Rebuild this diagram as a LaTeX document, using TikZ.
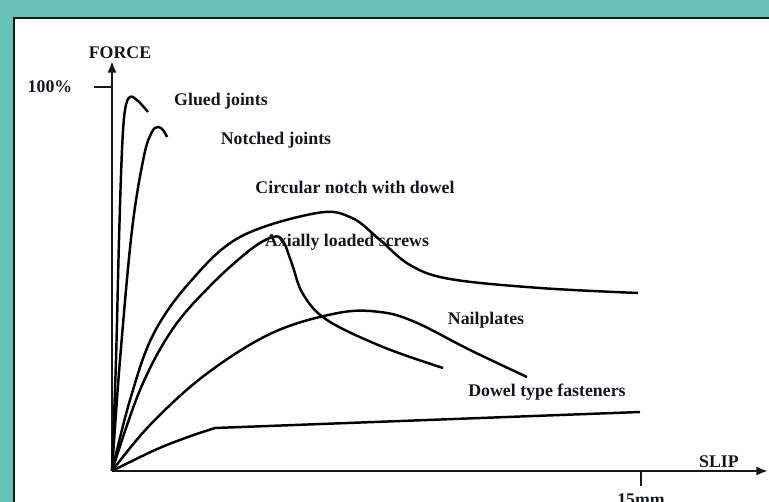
\documentclass[tikz,border=0pt]{standalone}
\usepackage{fontspec}
\setmainfont{Liberation Serif}
\usetikzlibrary{arrows.meta}
\definecolor{teal1}{RGB}{105,193,183}
\definecolor{ink}{RGB}{22,22,34}
\begin{document}
\begin{tikzpicture}[x=0.3mm,y=-0.3mm,
  lbl/.style={font=\fontsize{15.2}{18}\selectfont\bfseries, text=ink, inner sep=0pt},
  axis/.style={line width=2.4pt, draw=ink},
  curve/.style={line width=2.1pt, draw=black, smooth, tension=0.6},
  tip/.style={-{Latex[length=10pt,width=8pt]}}]
\fill[teal1] (0,0) rectangle (769,502);
\useasboundingbox (0,0) rectangle (769,502);
\filldraw[fill=white, draw=black!90, line width=2.4pt] (14,18) rectangle (790,520);
% axes
\coordinate (O) at (112,471);
\coordinate (Ytop) at (112,61);
\coordinate (Xend) at (768,471);
\coordinate (T100) at (94,87);
\coordinate (Y100) at (112,87);
\coordinate (T15) at (641,471);
\coordinate (T15b) at (641,486);
\draw[axis,tip] (O) -- (Ytop);
\draw[axis,tip] (O) -- (Xend);
\draw[axis] (T100) -- (Y100);
\draw[axis] (T15) -- (T15b);
% labels
\node[lbl] (force) at (120,53) {FORCE};
\node[lbl] (p100) at (50,87) {100\%};
\node[lbl] (slip) at (719,462) {SLIP};
\node[lbl] (mm15) at (641,500) {15mm};
\node[lbl] (glued) at (221,101) {Glued joints};
\node[lbl] (notched) at (276,140) {Notched joints};
\node[lbl] (circ) at (355,187) {Circular notch with dowel};
% curves
\draw[curve] plot coordinates {(112,471) (116,360) (119,240) (122,150) (125,110) (130,97) (138,101) (148,112)};
\draw[curve] plot coordinates {(112,471) (120,360) (132,230) (144,156) (152,132) (158,127) (163,130) (167,137)};
\draw[curve] plot coordinates {(112,471) (130,400) (153,335) (190,282) (240,237) (317,213) (352,218) (380,240) (410,265) (450,279) (540,288) (638,293)};
\draw[curve] plot coordinates {(112,471) (140,390) (172,330) (210,286) (250,250) (273,237) (283,241) (292,264) (303,294) (327,320) (383,347) (443,368)};
\draw[curve] plot coordinates {(112,471) (150,425) (205,375) (272,333) (338,313) (380,312) (415,322) (470,350) (527,377)};
\draw[curve] plot coordinates {(112,471) (155,450) (188,437) (215,428)};
\draw[line width=2.1pt] (215,428) -- (640,412);
\node[lbl] (axial) at (347,242) {Axially loaded screws};
\node[lbl] (nail) at (486,320) {Nailplates};
\node[lbl] (dowel) at (547,392) {Dowel type fasteners};
\end{tikzpicture}
\end{document}
